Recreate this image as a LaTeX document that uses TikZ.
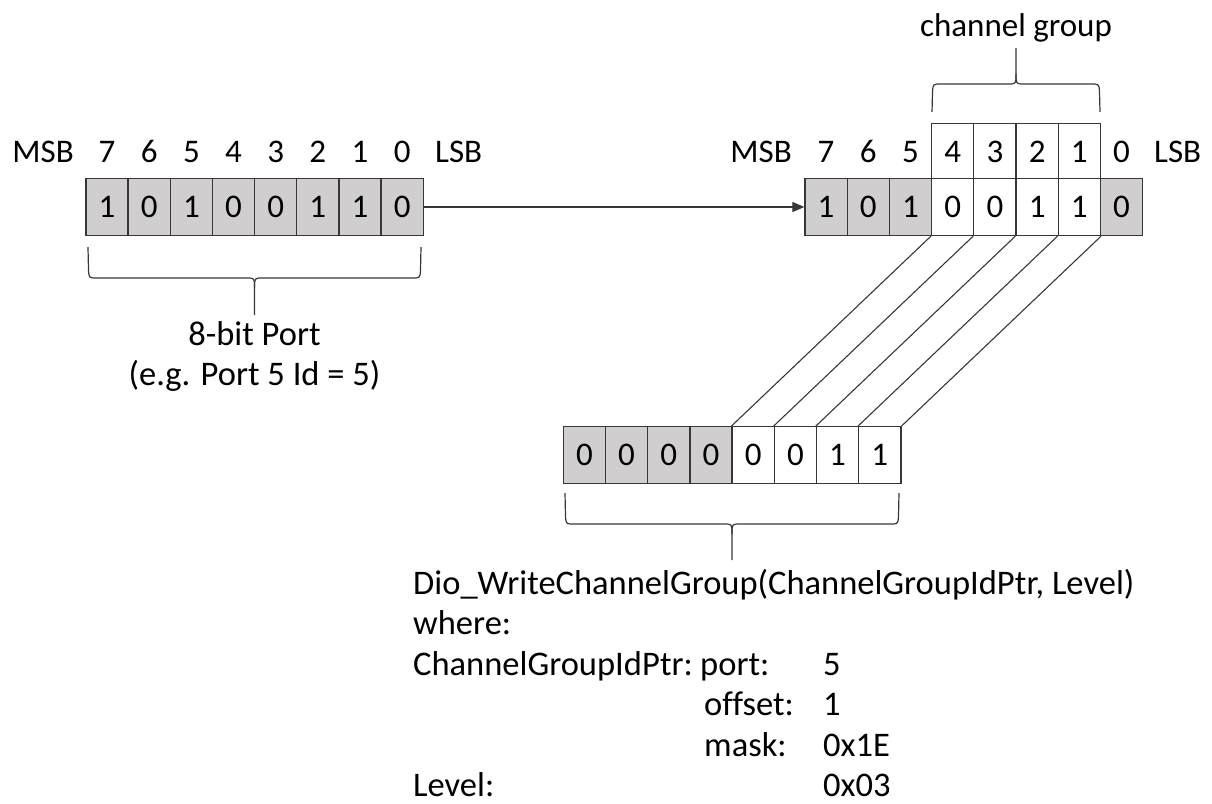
\documentclass[tikz,border=0pt]{standalone}
\usepackage{fontspec}
\setmainfont[Ligatures=NoCommon]{Carlito}
\usetikzlibrary{arrows.meta}
\definecolor{cellgray}{RGB}{208,206,206}
\definecolor{linec}{RGB}{55,55,55}
\begin{document}
\begin{tikzpicture}[x=1pt,y=-1pt,
  every node/.style={font=\fontsize{33}{40}\selectfont, text=black},
  cell/.style={draw=linec, line width=1.3pt, minimum width=42.2pt, minimum height=57pt, inner sep=0pt, anchor=center},
  lab/.style={anchor=base, inner sep=0pt},
  txt/.style={anchor=base west, inner sep=0pt, font=\fontsize{34.5}{40}\selectfont},
  wire/.style={draw=linec, line width=1.1pt},
  brace/.style={draw=linec, line width=1.2pt}]
\useasboundingbox (0,0) rectangle (1212,803);

% left register
\foreach \b/\v [count=\i from 0] in {7/1,6/0,5/1,4/0,3/0,2/1,1/1,0/0} {
  \node[cell, fill=cellgray] (l\b) at ({86+42.15*(\i+0.5)},207) {\v};
  \node[lab] (lt\b) at ({86+42.15*(\i+0.5)},162) {\b};
}
\node[lab, anchor=base east] (msbL) at (74,162) {MSB};
\node[lab, anchor=base west] (lsbL) at (435,162) {LSB};

% right register
\foreach \b/\v/\f [count=\i from 0] in {7/1/cellgray,6/0/cellgray,5/1/cellgray,4/0/white,3/0/white,2/1/white,1/1/white,0/0/cellgray} {
  \node[cell, fill=\f] (r\b) at ({805+42.2*(\i+0.5)},207) {\v};
}
\foreach \b [count=\i from 3] in {4,3,2,1} {
  \node[cell, fill=white, minimum height=55.2pt] (t\b) at ({805+42.2*(\i+0.5)},150.9) {};
}
\foreach \b [count=\i from 0] in {7,6,5,4,3,2,1,0} {
  \node[lab] (rt\b) at ({805+42.2*(\i+0.5)},162) {\b};
}
\node[lab, anchor=base east] (msbR) at (792,162) {MSB};
\node[lab, anchor=base west] (lsbR) at (1154,162) {LSB};

% bottom register
\foreach \b/\v/\f [count=\i from 0] in {7/0/cellgray,6/0/cellgray,5/0/cellgray,4/0/cellgray,3/0/white,2/0/white,1/1/white,0/1/white} {
  \node[cell, fill=\f, minimum height=56.6pt] (b\b) at ({563.3+42.2*(\i+0.5)},455) {\v};
}

% connectors
\draw[wire, -{Triangle[length=12pt,width=10pt]}] (l0.east) -- (r7.west);
\draw[wire] (r4.south west) -- (b3.north west);
\draw[wire] (r3.south west) -- (b2.north west);
\draw[wire] (r2.south west) -- (b1.north west);
\draw[wire] (r1.south west) -- (b0.north west);
\draw[wire] (r1.south east) -- (b0.north east);

% braces
\draw[brace] (88,247) -- (88.5,270) .. controls (89,278) .. (97,278) -- (246.5,278) .. controls (254.5,278) .. (254.5,288) -- (254.5,315);
\draw[brace] (421,247) -- (420.5,270) .. controls (420,278) .. (412,278) -- (262.5,278) .. controls (254.5,278) .. (254.5,288);
\draw[brace] (565,493) -- (565.5,516) .. controls (566,524) .. (574,524) -- (724,524) .. controls (732,524) .. (732,534) -- (732,560);
\draw[brace] (899,493) -- (898.5,516) .. controls (898,524) .. (890,524) -- (740,524) .. controls (732,524) .. (732,534);
\draw[brace] (932,112) -- (932.5,92) .. controls (933,84) .. (941,84) -- (1008,84) .. controls (1016,84) .. (1016,74) -- (1016,48);
\draw[brace] (1100,112) -- (1099.5,92) .. controls (1099,84) .. (1091,84) -- (1024,84) .. controls (1016,84) .. (1016,74);

% texts
\node[lab] (cg) at (1016,36) {channel group};
\node[lab, font=\fontsize{34.5}{40}\selectfont] (port8) at (254.5,345) {8-bit Port};
\node[lab, font=\fontsize{34.5}{40}\selectfont] (eg) at (254.5,385) {(e.g. Port 5 Id = 5)};
\node[txt] (fn) at (413,594) {Dio\_WriteChannelGroup(ChannelGroupIdPtr, Level)};
\node[txt] (wh) at (413,634.5) {where:};
\node[txt] (cgp) at (413,675) {ChannelGroupIdPtr:};
\node[txt] (pk) at (700,675) {port:};
\node[txt] (ok) at (704,715.5) {offset:};
\node[txt] (mk) at (704,756) {mask:};
\node[txt] (lv) at (413,796.5) {Level:};
\node[txt] (pv) at (823,675) {5};
\node[txt] (ov) at (823,715.5) {1};
\node[txt] (mv) at (823,756) {0x1E};
\node[txt] (lvv) at (823,796.5) {0x03};
\end{tikzpicture}
\end{document}
